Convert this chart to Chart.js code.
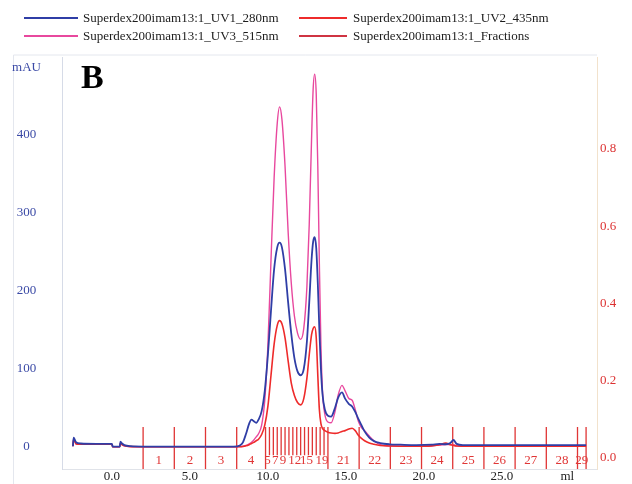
<!DOCTYPE html>
<html>
<head>
<meta charset="utf-8">
<script src="https://cdn.jsdelivr.net/npm/chart.js@4/dist/chart.umd.min.js"></script>
<style>
  html, body { margin: 0; padding: 0; background: #fff; }
  #wrap { position: relative; width: 632px; height: 484px; }
</style>
</head>
<body>
<div id="wrap"><canvas id="chromatogram"></canvas></div>
<script>
// elution volume (ml) shared by the three UV traces
const volume = [-2.5, -2.45, -2.3, -2.0, -1.0, 0.0, 0.05, 0.5, 0.55, 0.65, 0.8, 1.2, 2, 4, 6, 7.8,
  8.2, 8.4, 8.6, 8.8, 8.95, 9.1, 9.25, 9.4, 9.6, 9.8, 10.0, 10.2, 10.4, 10.6, 10.75, 10.9, 11.1,
  11.3, 11.5, 11.7, 11.9, 12.1, 12.3, 12.5, 12.65, 12.8, 12.9, 13.0, 13.1, 13.2, 13.3, 13.4, 13.5,
  13.65, 13.85, 14.05, 14.3, 14.5, 14.75, 14.95, 15.2, 15.4, 15.6, 15.8, 16.0, 16.2, 16.5, 16.8,
  17.2, 17.8, 18.5, 19.5, 20.5, 21.0, 21.4, 21.7, 21.9, 22.1, 22.5, 23.5, 25, 27, 29, 30.4];

// absorbance, mAU
const uv280 = [1, 12, 6, 4.5, 4, 4, 0.5, 0.5, 7, 4.5, 2.5, 1, 0.5, 0.5, 0.5, 0.5,
  2, 6, 17, 30, 35, 33, 31, 35, 46, 72, 118, 175, 228, 256, 262, 256, 228,
  185, 145, 114, 97, 92, 100, 135, 185, 240, 263, 269, 255, 210, 150, 100, 68,
  48, 40, 39, 50, 63, 70, 62, 55, 52, 45, 36, 28, 20, 12, 7.5,
  5, 3.5, 3, 2.5, 3, 4, 3.5, 5, 9, 4, 2.5, 2.5, 2.5, 2.5, 2.5, 2.5];
const uv435 = [1, 10, 4, 3.5, 3.5, 3.5, 0.3, 0.3, 5, 3, 1.5, 0.5, 0.3, 0.3, 0.3, 0.3,
  0.3, 0.6, 1.5, 3, 4.5, 6, 8, 10, 16, 28, 52, 92, 132, 156, 162, 158, 140,
  110, 82, 66, 57, 54, 62, 88, 118, 144, 152, 154, 140, 92, 48, 30, 24,
  21, 19, 18, 17.5, 18, 20, 21, 23, 24, 21, 15, 11, 8, 5, 3.5,
  2, 1.2, 1, 1, 1.5, 3, 5, 3, 2, 1.2, 1, 1, 1, 1, 1, 1];
const uv515 = [1, 10, 4, 3.5, 3.5, 3.5, 0.3, 0.3, 5, 3, 1.5, 0.5, 0.3, 0.3, 0.3, 0.3,
  0.5, 1, 2, 4, 6, 9, 13, 17, 28, 60, 130, 240, 345, 415, 436, 420, 360,
  275, 210, 168, 146, 138, 152, 205, 285, 395, 458, 478, 452, 360, 235, 130, 72,
  42, 32, 31, 45, 66, 79, 72, 62, 60, 48, 33, 25, 21, 14, 8,
  3, 1.5, 1, 1, 1.5, 2.5, 3, 3, 3, 1.5, 1, 1, 1, 1, 1, 1];

// fraction collector: cut points (ml) and the tags printed under them
const fractionEdges = [2, 4, 6, 8, 9.85, 10.1, 10.35, 10.6, 10.85, 11.1, 11.35, 11.6, 11.85,
  12.1, 12.35, 12.6, 12.85, 13.1, 13.35, 13.6, 13.85, 15.85, 17.85, 19.85, 21.85, 23.85,
  25.85, 27.85, 29.85, 30.4];
const fractionTags = ['1', '2', '3', '4', '5', '', '7', '', '9', '', '', '12', '', '', '15',
  '', '', '', '19', '', '21', '22', '23', '24', '25', '26', '27', '28', '29'];

const mlTicks = [0, 5, 10, 15, 20, 25];
const mauTicks = [0, 100, 200, 300, 400];
const auTicks = [0, 0.2, 0.4, 0.6, 0.8];

const serif = '"Liberation Serif", "Times New Roman", serif';
const BLUE = '#2f3ea6';
const RED = '#ee2b2b';
const PINK = '#e8489e';
const FRAC = '#e03636';

const Y2_MIN = -0.0285;
const FRAC_TOP = 0.08;

const trace = (vals) => volume.map((v, i) => ({ x: v, y: vals[i] }));

function fractionLines() {
  const pts = [];
  fractionEdges.forEach((e, i) => {
    const left = i > 0 ? e - fractionEdges[i - 1] : 2;
    const right = i < fractionEdges.length - 1 ? fractionEdges[i + 1] - e : 2;
    const bottom = (left < 1 && right < 1) ? 0.007 : Y2_MIN;
    pts.push({ x: e, y: bottom }, { x: e, y: FRAC_TOP }, { x: e, y: null });
  });
  return pts;
}

// keep the plot box fixed: no extra room for half labels
function noPad(s) {
  s.paddingTop = 0;
  s.paddingBottom = 0;
  s.paddingLeft = 0;
  s.paddingRight = 0;
}

// two-column legend above the plot, line sample + run name
const runLegend = {
  id: 'runLegend',
  afterDraw(chart) {
    const { ctx } = chart;
    const cols = [{ x0: 24, x1: 78, tx: 83 }, { x0: 299, x1: 347, tx: 353 }];
    const rows = [18, 36];
    ctx.save();
    ctx.font = '13px ' + serif;
    ctx.textBaseline = 'middle';
    ctx.textAlign = 'left';
    chart.data.datasets.forEach((ds, i) => {
      const c = cols[i % 2];
      const y = rows[Math.floor(i / 2)];
      ctx.strokeStyle = ds.legendColor || ds.borderColor;
      ctx.lineWidth = 2;
      ctx.beginPath();
      ctx.moveTo(c.x0, y);
      ctx.lineTo(c.x1, y);
      ctx.stroke();
      ctx.fillStyle = '#1c1c1c';
      ctx.fillText(ds.label, c.tx, y + 1);
    });
    ctx.restore();
  }
};

// faint frame, panel letter and fraction numbers
const decorations = {
  id: 'decorations',
  beforeDraw(chart) {
    const { ctx, chartArea: a } = chart;
    ctx.save();
    ctx.strokeStyle = '#e4e7ee';
    ctx.lineWidth = 1;
    ctx.beginPath();
    ctx.moveTo(13.5, a.top - 2);
    ctx.lineTo(a.right, a.top - 2);
    ctx.moveTo(13.5, a.top - 2);
    ctx.lineTo(13.5, chart.height);
    ctx.stroke();
    ctx.restore();
  },
  afterDatasetsDraw(chart) {
    const { ctx, chartArea: a, scales: { x } } = chart;
    ctx.save();
    ctx.fillStyle = '#000';
    ctx.font = 'bold 34px ' + serif;
    ctx.textAlign = 'left';
    ctx.textBaseline = 'alphabetic';
    ctx.fillText('B', a.left + 19, a.top + 31);

    ctx.font = '13px ' + serif;
    ctx.fillStyle = FRAC;
    ctx.textAlign = 'center';
    ctx.textBaseline = 'middle';
    fractionTags.forEach((tag, i) => {
      if (!tag) return;
      const mid = (fractionEdges[i] + fractionEdges[i + 1]) / 2;
      ctx.fillText(tag, x.getPixelForValue(mid), a.bottom - 8);
    });
    ctx.restore();
  }
};

new Chart(document.getElementById('chromatogram'), {
  type: 'line',
  data: {
    datasets: [
      { label: 'Superdex200imam13:1_UV1_280nm', data: trace(uv280), borderColor: BLUE, borderWidth: 1.8, yAxisID: 'y' },
      { label: 'Superdex200imam13:1_UV2_435nm', data: trace(uv435), borderColor: RED, borderWidth: 1.6, yAxisID: 'y' },
      { label: 'Superdex200imam13:1_UV3_515nm', data: trace(uv515), borderColor: PINK, borderWidth: 1.4, yAxisID: 'y' },
      { label: 'Superdex200imam13:1_Fractions', data: fractionLines(), borderColor: FRAC, legendColor: '#cf3442',
        borderWidth: 1.3, yAxisID: 'y2', tension: 0, cubicInterpolationMode: 'default', spanGaps: false }
    ]
  },
  options: {
    responsive: true,
    maintainAspectRatio: false,
    animation: false,
    layout: { padding: { top: 57, left: 0, right: 0, bottom: 0 } },
    elements: {
      point: { radius: 0 },
      line: { cubicInterpolationMode: 'monotone', fill: false }
    },
    plugins: { legend: { display: false }, tooltip: { enabled: false } },
    scales: {
      x: {
        type: 'linear',
        min: -3.2,
        max: 31.1,
        afterFit(s) { s.height = 15; noPad(s); },
        afterBuildTicks(s) { s.ticks = mlTicks.concat([29.2]).map(v => ({ value: v })); },
        grid: { display: false, drawTicks: false },
        border: { color: '#e0e3e9', width: 1 },
        ticks: {
          padding: 0,
          autoSkip: false,
          maxRotation: 0,
          color: '#222',
          font: { family: serif, size: 13 },
          callback: (v, i, t) => i === t.length - 1 ? 'ml' : v.toFixed(1)
        }
      },
      y: {
        position: 'left',
        min: -28.2,
        max: 500,
        afterFit(s) { s.width = 62; noPad(s); },
        afterBuildTicks(s) { s.ticks = mauTicks.concat([487]).map(v => ({ value: v })); },
        grid: { display: false, drawTicks: false },
        border: { color: '#d6dbe7', width: 1 },
        ticks: {
          crossAlign: 'center',
          padding: 21,
          color: '#3b4aa6',
          font: { family: serif, size: 13 },
          callback: (v, i, t) => i === t.length - 1 ? 'mAU' : v
        }
      },
      y2: {
        position: 'right',
        display: true,
        min: Y2_MIN,
        max: 1.038,
        afterFit(s) { s.width = 35; noPad(s); },
        afterBuildTicks(s) { s.ticks = auTicks.map(v => ({ value: v })); },
        grid: { display: false, drawTicks: false },
        border: { color: '#f2e2cc', width: 1 },
        ticks: {
          padding: 3,
          color: '#dc3232',
          font: { family: serif, size: 13 },
          callback: (v) => v.toFixed(1)
        }
      }
    }
  },
  plugins: [runLegend, decorations]
});
</script>
</body>
</html>
